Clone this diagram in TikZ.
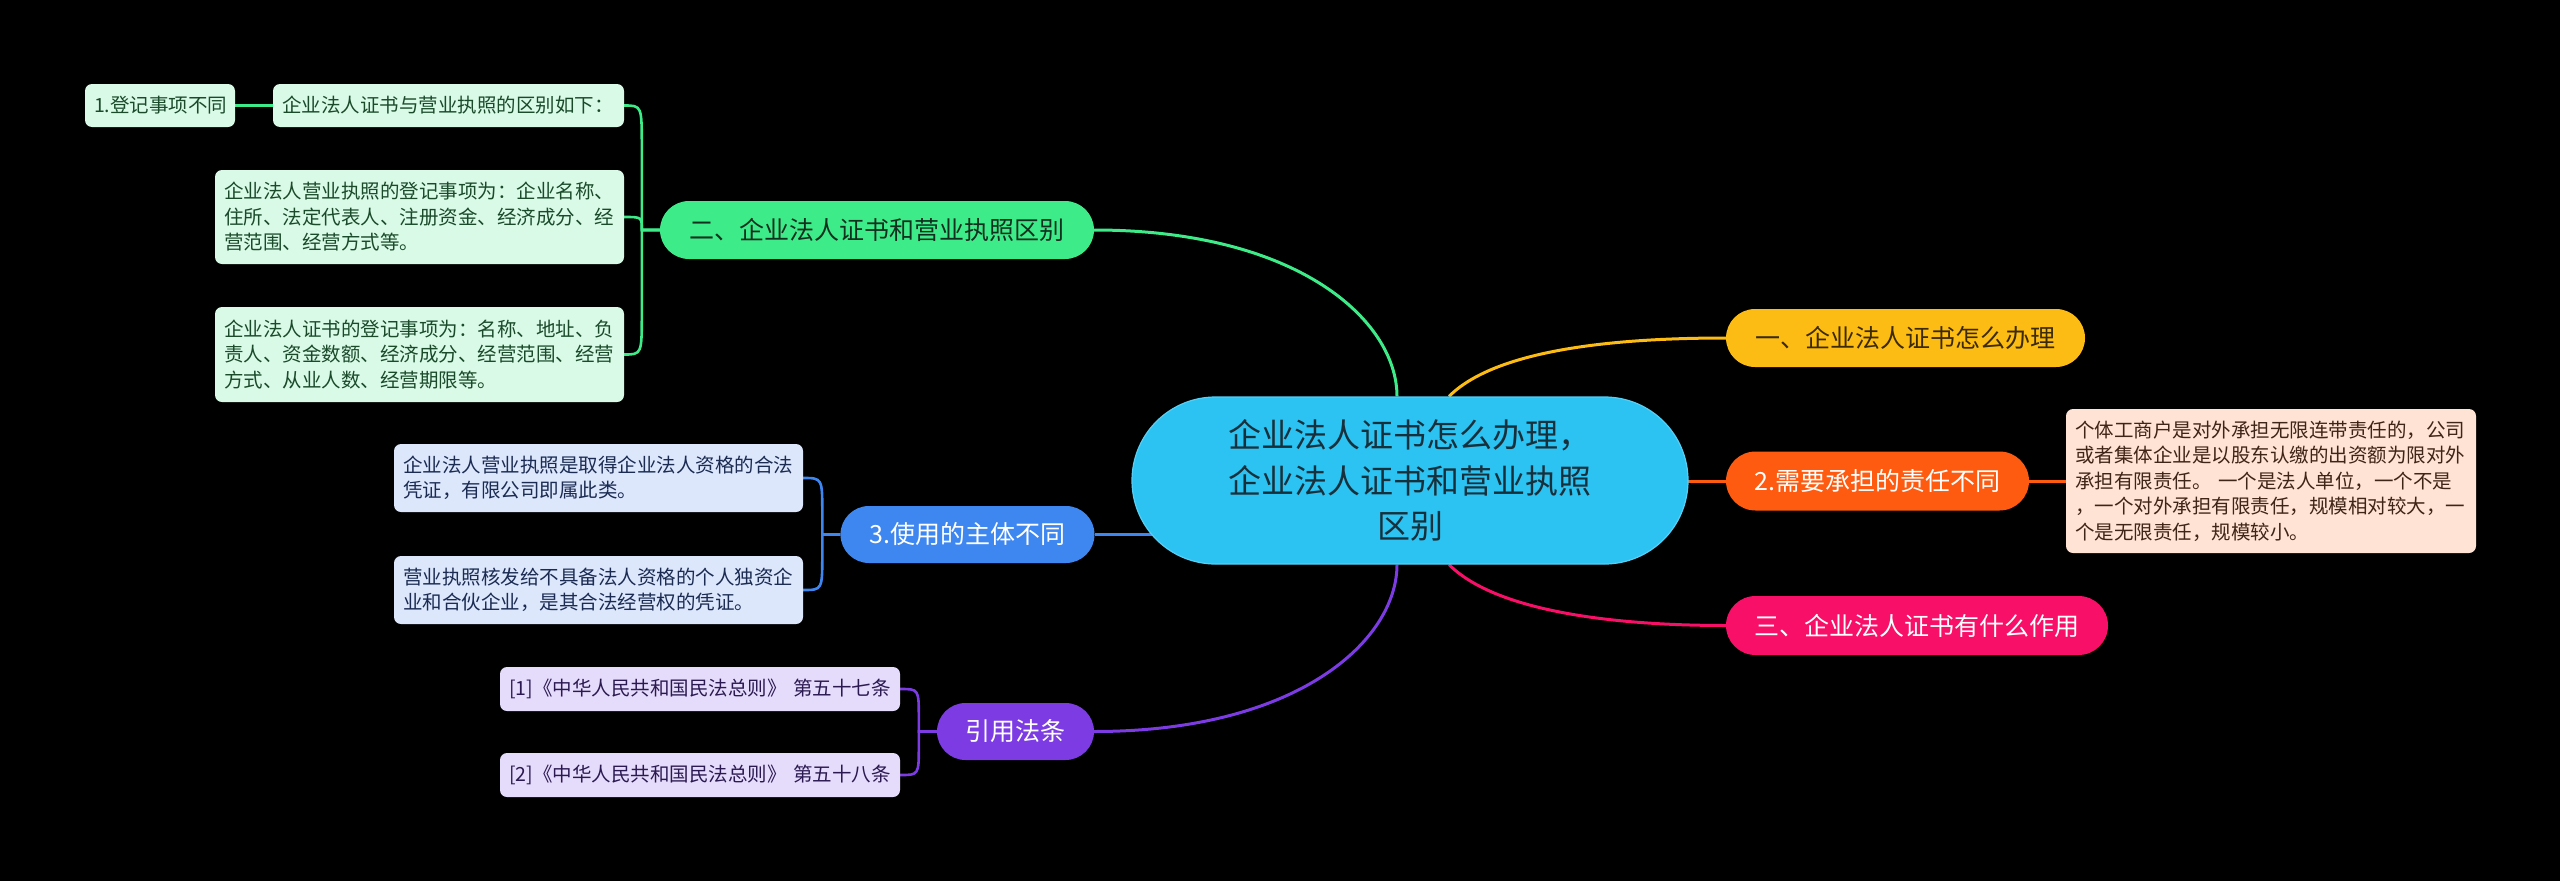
\documentclass[tikz,border=0pt]{standalone}
\usepackage{fontspec}
\setmainfont{Noto Sans CJK SC}
\usetikzlibrary{shapes.misc,calc}
\pgfdeclarelayer{bg}
\pgfsetlayers{bg,main}
\definecolor{cCen}{HTML}{2CC3F2}
\definecolor{cCenT}{HTML}{17303B}
\definecolor{cYel}{HTML}{FDBC14}
\definecolor{cYelT}{HTML}{3A2A05}
\definecolor{cOra}{HTML}{FE5B10}
\definecolor{cPink}{HTML}{F80F67}
\definecolor{cGrn}{HTML}{3EEB89}
\definecolor{cGrnT}{HTML}{12301E}
\definecolor{cGrnL}{HTML}{D8FAE6}
\definecolor{cGrnLT}{HTML}{1B4A2B}
\definecolor{cBlu}{HTML}{3E87F0}
\definecolor{cBluL}{HTML}{DCE7FC}
\definecolor{cBluLT}{HTML}{1B2B52}
\definecolor{cPur}{HTML}{7C3BE3}
\definecolor{cPurL}{HTML}{E5DBFA}
\definecolor{cPurLT}{HTML}{2B1A52}
\definecolor{cPea}{HTML}{FFE3D5}
\definecolor{cPeaT}{HTML}{3F2517}
\tikzset{
 mainnode/.style={rounded rectangle, inner sep=0pt, font=\fontsize{25}{30}\selectfont},
 leafnode/.style={rectangle, rounded corners=7pt, inner xsep=9pt, inner ysep=0pt, align=left, font=\fontsize{19.5}{25.5}\selectfont},
 conn/.style={line width=3pt},
 brace/.style={line width=2.6pt},
}
\begin{document}
\begin{tikzpicture}[x=1pt,y=-1pt]
\useasboundingbox (0,0) rectangle (2560,881);
% central
\node[rounded rectangle, inner sep=0pt, fill=cCen, draw=cCen!80!white, line width=1.2pt, text=cCenT,
  minimum width=556pt, minimum height=167pt, align=center, font=\fontsize{33}{45.5}\selectfont]
  (c) at (1410,480.5) {企业法人证书怎么办理，\\企业法人证书和营业执照\\区别};
% right side
\node[mainnode, fill=cYel, text=cYelT, minimum width=359pt, minimum height=58pt] (y) at (1905.5,338) {一、企业法人证书怎么办理};
\node[mainnode, fill=cOra, text=white, minimum width=303pt, minimum height=59pt] (o) at (1877.5,481) {2.需要承担的责任不同};
\node[leafnode, fill=cPea, text=cPeaT, text width=392pt, minimum height=144pt] (pe) at (2271,481)
  {个体工商户是对外承担无限连带责任的，公司\\或者集体企业是以股东认缴的出资额为限对外\\承担有限责任。 一个是法人单位，一个不是\\，一个对外承担有限责任，规模相对较大，一\\个是无限责任，规模较小。};
\node[mainnode, fill=cPink, text=white, minimum width=382pt, minimum height=59pt] (pk) at (1917,625.5) {三、企业法人证书有什么作用};
% left side: green
\node[mainnode, fill=cGrn, text=cGrnT, minimum width=434pt, minimum height=58pt] (g) at (877,230) {二、企业法人证书和营业执照区别};
\node[leafnode, fill=cGrnL, text=cGrnLT, text width=333pt, minimum height=43pt] (g1) at (448.5,105.5) {企业法人证书与营业执照的区别如下：};
\node[leafnode, fill=cGrnL, text=cGrnLT, text width=132pt, minimum height=43pt] (g0) at (160,105.5) {1.登记事项不同};
\node[leafnode, fill=cGrnL, text=cGrnLT, text width=391pt, minimum height=94pt] (g2) at (419.5,217)
  {企业法人营业执照的登记事项为：企业名称、\\住所、法定代表人、注册资金、经济成分、经\\营范围、经营方式等。};
\node[leafnode, fill=cGrnL, text=cGrnLT, text width=391pt, minimum height=95pt] (g3) at (419.5,354.5)
  {企业法人证书的登记事项为：名称、地址、负\\责人、资金数额、经济成分、经营范围、经营\\方式、从业人数、经营期限等。};
% blue
\node[mainnode, fill=cBlu, text=white, minimum width=254pt, minimum height=57pt] (b) at (967.5,534.5) {3.使用的主体不同};
\node[leafnode, fill=cBluL, text=cBluLT, text width=391pt, minimum height=68pt] (b1) at (598.5,478)
  {企业法人营业执照是取得企业法人资格的合法\\凭证，有限公司即属此类。};
\node[leafnode, fill=cBluL, text=cBluLT, text width=391pt, minimum height=68pt] (b2) at (598.5,590)
  {营业执照核发给不具备法人资格的个人独资企\\业和合伙企业，是其合法经营权的凭证。};
% purple
\node[mainnode, fill=cPur, text=white, minimum width=157pt, minimum height=57pt] (p) at (1015.5,731.5) {引用法条};
\node[leafnode, fill=cPurL, text=cPurLT, text width=382pt, minimum height=44pt] (p1) at (700,689) {[1]《中华人民共和国民法总则》 第五十七条};
\node[leafnode, fill=cPurL, text=cPurLT, text width=382pt, minimum height=44pt] (p2) at (700,775) {[2]《中华人民共和国民法总则》 第五十八条};
% connectors
\begin{pgfonlayer}{bg}
\fill[black] (0,0) rectangle (2560,881);
\draw[conn, cGrn] ($(c.north)+(-13,0)$) .. controls +(0,-75) and +(205,0) .. (g.east);
\draw[conn, cYel] ($(c.north)+(39,0)$) .. controls +(45,-45) and +(-120,0) .. (y.west);
\draw[conn, cOra] (c.center |- o.west) -- (o.west);
\draw[conn, cOra] (o.east) -- (pe.west);
\draw[conn, cPink] ($(c.south)+(39,0)$) .. controls +(45,45) and +(-120,0) .. (pk.west);
\draw[conn, cBlu] (c.center |- b.east) -- (b.east);
\draw[conn, cPur] ($(c.south)+(-13,0)$) .. controls +(0,75) and +(205,0) .. (p.east);
% green brace
\coordinate (gj) at ($(g.west)+(-18,0)$);
\draw[brace, cGrn] (g.west) -- (gj) -- ($(gj |- g1.east)+(0,42)$) .. controls (gj |- g1.east) .. (g1.east);
\draw[brace, cGrn] (g.west) -- (gj) .. controls (gj |- g2.east) .. (g2.east);
\draw[brace, cGrn] (g.west) -- (gj) -- ($(gj |- g3.east)+(0,-42)$) .. controls (gj |- g3.east) .. (g3.east);
\draw[brace, cGrn] (g0.east) -- (g1.west);
% blue brace
\coordinate (bj) at ($(b.west)+(-18,0)$);
\draw[brace, cBlu] (b.west) -- (bj) -- ($(bj |- b1.east)+(0,36)$) .. controls (bj |- b1.east) .. (b1.east);
\draw[brace, cBlu] (b.west) -- (bj) -- ($(bj |- b2.east)+(0,-36)$) .. controls (bj |- b2.east) .. (b2.east);
% purple brace
\coordinate (pj) at ($(p.west)+(-18,0)$);
\draw[brace, cPur] (p.west) -- (pj) -- ($(pj |- p1.east)+(0,29)$) .. controls (pj |- p1.east) .. (p1.east);
\draw[brace, cPur] (p.west) -- (pj) -- ($(pj |- p2.east)+(0,-29)$) .. controls (pj |- p2.east) .. (p2.east);
\end{pgfonlayer}
\end{tikzpicture}
\end{document}
